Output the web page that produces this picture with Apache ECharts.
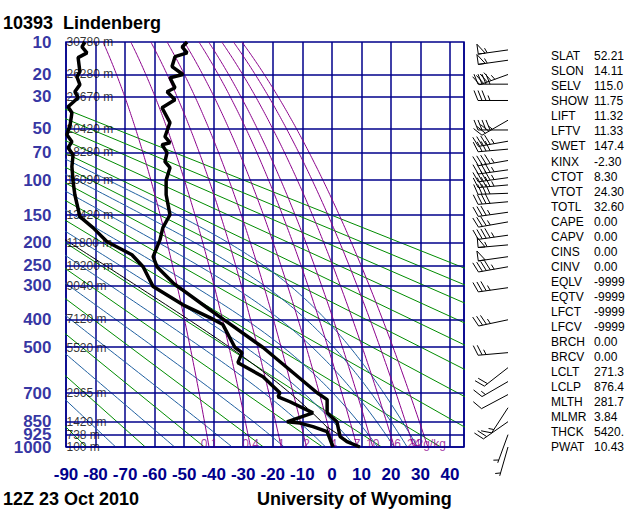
<!DOCTYPE html>
<html>
<head>
<meta charset="utf-8">
<script src="https://cdn.jsdelivr.net/npm/echarts@6/dist/echarts.min.js"></script>
<style>
  html, body { margin: 0; padding: 0; background: #fff; }
  #chart { width: 640px; height: 512px; }
</style>
</head>
<body>
<div id="chart"></div>
<script>
// 等压面及其高度
const pLevels = [10, 20, 30, 50, 70, 100, 150, 200, 250, 300, 400, 500, 700, 850, 925, 1000]
const heights = ['30780', '26280', '23670', '20420', '18280', '16090', '13420', '11800', '10200', '9040', '7120', '5520', '2965', '1420', '738', '100']

// 温度廓线 (hPa, °C)
const tempP = [10, 11.2, 12.8, 13.9, 17.1, 20, 21.3, 25.6, 27.5, 31.6, 36.1, 45.7, 56.3, 61.3, 63, 70.3, 79.2, 85.6, 100, 119, 149, 171, 194, 229, 252, 292, 369, 408, 500, 697, 731, 800, 849, 936, 967, 1000]
const tempT = [-49.0, -50.7, -49.0, -53.1, -54.1, -50.4, -54.8, -53.1, -55.8, -53.1, -57.5, -54.8, -56.5, -54.8, -57.5, -55.8, -56.5, -54.8, -56.1, -56.1, -54.8, -57.2, -58.2, -60.5, -59.2, -53.8, -41.3, -35.5, -23.3, -5.0, -1.6, -1.6, 1.7, 2.8, 5.1, 9.5]

// 露点廓线 (hPa, °C)
const dewP = [10, 11.2, 12.8, 14.2, 18.9, 20.9, 24.2, 27.5, 30.5, 35.5, 39.1, 47.1, 54.7, 60.4, 65.7, 72.2, 84.5, 101.9, 119, 152, 171, 197.6, 224.6, 252, 302, 354, 394, 417, 500, 520, 561, 622, 697, 717, 742, 800, 850, 857, 877, 906, 1000]
const dewT = [-83.6, -84.6, -82.9, -85.9, -85.3, -86.3, -85.3, -87.0, -85.9, -89.3, -88.0, -88.6, -89.7, -88.0, -89.3, -87.6, -88.0, -87.6, -87.0, -85.3, -80.9, -76.1, -67.7, -63.9, -60.5, -50.4, -41.3, -36.9, -32.8, -30.4, -31.8, -23.3, -17.6, -18.2, -14.2, -6.4, -15.2, -10.8, -6.4, -1.6, 0.4]

// 风 (hPa, 风向°, 风速kt)
const windP = [12, 15, 20, 24, 32, 44, 51, 60, 67, 78, 88, 97, 106, 117, 129, 145, 161, 185, 204, 229, 252, 305, 401, 520, 582, 644, 706, 773, 849, 924, 1000]
const windDir = [262, 262, 250, 270, 270, 240, 270, 260, 265, 260, 262, 262, 265, 268, 265, 262, 260, 262, 265, 262, 260, 262, 258, 265, 232, 240, 242, 213, 235, 200, 196]
const windSpd = [55, 55, 45, 40, 35, 35, 40, 45, 40, 45, 45, 45, 45, 40, 40, 35, 35, 45, 55, 50, 45, 35, 35, 25, 20, 15, 10, 15, 20, 5, 5]

// 背景线参数
const dryTheta = [190, 210, 230, 250, 270, 290, 310, 330, 350, 370, 390, 410, 430, 450, 470]
const moistThetaE = [200, 220, 240, 260, 280, 300, 320, 340, 360, 380]
const mixRatio = [0.1, 0.4, 1, 2, 4, 7, 10, 16, 24, 32]
const mixLabels = ['0.1', '0.4', '1', '2', '4', '7', '10', '16', '24', '32g/kg']

// 气块参数
const lclP = 876.4
const lclT = 271.3
const mlTheta = 281.7
const mlMr = 3.84

// 指数表
const indexNames = ['SLAT', 'SLON', 'SELV', 'SHOW', 'LIFT', 'LFTV', 'SWET', 'KINX', 'CTOT', 'VTOT', 'TOTL', 'CAPE', 'CAPV', 'CINS', 'CINV', 'EQLV', 'EQTV', 'LFCT', 'LFCV', 'BRCH', 'BRCV', 'LCLT', 'LCLP', 'MLTH', 'MLMR', 'THCK', 'PWAT']
const indexValues = ['52.21', '14.11', '115.0', '11.75', '11.32', '11.33', '147.4', '-2.30', '8.30', '24.30', '32.60', '0.00', '0.00', '0.00', '0.00', '-9999', '-9999', '-9999', '-9999', '0.00', '0.00', '271.3', '876.4', '281.7', '3.84', '5420.', '10.43']

const NAVY = '#00008b'
const GREEN = '#008c00'
const STEEL = '#1f5f9f'
const PURPLE = '#8b008b'
const KAPPA = 0.286
const FONT = '"Liberation Sans", Arial, sans-serif'

// 纵轴用 p^kappa
const yv = (p) => Math.pow(p, KAPPA)
const pair = (ps, ts) => ps.map((p, i) => [ts[i], yv(p)])

const satVap = (tc) => 6.112 * Math.exp(17.67 * tc / (tc + 243.5))
const dewFromMix = (w, p) => {
  const e = (w / 1000) * p / (0.622 + w / 1000)
  const l = Math.log(e / 6.112)
  return 243.5 * l / (17.67 - l)
}
// 饱和相当位温
const satThetaE = (tk, p) => {
  const e = satVap(tk - 273.15)
  const r = 1000 * 0.622 * e / (p - e)
  return tk * Math.pow(1000 / p, 0.2854 * (1 - 0.00028 * r)) * Math.exp((3.376 / tk - 0.00254) * r * (1 + 0.00081 * r))
}
// 由相当位温求 1000hPa 温度
const tempForThetaE = (te) => {
  let lo = 150
  let hi = 340
  for (let i = 0; i < 60; i++) {
    const mid = (lo + hi) / 2
    if (satThetaE(mid, 1000) > te) hi = mid
    else lo = mid
  }
  return (lo + hi) / 2 - 273.15
}
const moistLapse = (p, tk) => {
  const e = satVap(tk - 273.15)
  const rs = 0.622 * e / (p - e)
  const num = (287.04 * tk + 2.501e6 * rs) / p
  const den = 1005.7 + 2.501e6 * 2.501e6 * rs * 0.622 / (287.04 * tk * tk)
  return num / den
}
const moistPath = (p0, tc0, pEnd) => {
  let p = p0
  let t = tc0 + 273.15
  const pts = [[tc0, yv(p0)]]
  while (p > pEnd) {
    const dp = -Math.max(p * 0.02, 0.2)
    const k1 = moistLapse(p, t)
    const k2 = moistLapse(p + dp, t + k1 * dp)
    t += 0.5 * (k1 + k2) * dp
    p += dp
    pts.push([t - 273.15, yv(p)])
    if (t - 273.15 < -95) break
  }
  return pts
}
const mixPath = (w, pBot, pTop) => {
  const pts = []
  for (let p = pBot; p > pTop; p *= 0.97) pts.push([dewFromMix(w, p), yv(p)])
  pts.push([dewFromMix(w, pTop), yv(pTop)])
  return pts
}

const xMin = -90
const xMax = -90 + 398 / 2.954

const bgLine = (data, color) => ({
  type: 'line',
  data,
  showSymbol: false,
  silent: true,
  clip: true,
  lineStyle: { color, width: 1 },
  z: 1
})

const series = []

// 干绝热线
dryTheta.forEach(th => {
  series.push(bgLine([[th - 273.15, yv(1000)], [th * Math.pow(10 / 1000, KAPPA) - 273.15, yv(10)]], GREEN))
})
// 湿绝热线
moistThetaE.forEach(te => {
  series.push(bgLine(moistPath(1000, tempForThetaE(te), 10), STEEL))
})
// 等饱和比湿线
mixRatio.forEach(w => {
  series.push(bgLine(mixPath(w, 1000, 10), PURPLE))
})

// 等压线
series.push({
  type: 'line',
  data: [[xMin, yv(1000)]],
  showSymbol: false,
  silent: true,
  z: 2,
  markLine: {
    symbol: 'none',
    silent: true,
    label: { show: false },
    lineStyle: { color: NAVY, width: 1.5, type: 'solid' },
    data: pLevels.map(p => ({ yAxis: yv(p) }))
  }
})

// 气压标注
series.push({
  type: 'scatter',
  data: pLevels.map(p => [xMin, yv(p)]),
  symbolSize: 1,
  itemStyle: { color: 'rgba(0,0,0,0)' },
  silent: true,
  clip: false,
  z: 3,
  label: {
    show: true,
    position: 'left',
    distance: 14,
    color: NAVY,
    fontSize: 17,
    fontWeight: 'bold',
    fontFamily: FONT,
    formatter: (params) => String(pLevels[params.dataIndex])
  }
})

// 高度标注
series.push({
  type: 'scatter',
  data: pLevels.map(p => [xMin, yv(p)]),
  symbolSize: 1,
  itemStyle: { color: 'rgba(0,0,0,0)' },
  silent: true,
  clip: false,
  z: 3,
  label: {
    show: true,
    position: 'right',
    distance: 0,
    color: '#000',
    fontSize: 12,
    fontFamily: FONT,
    formatter: (params) => heights[params.dataIndex] + ' m'
  }
})

// 比湿标注
series.push({
  type: 'scatter',
  data: mixRatio.map(w => [dewFromMix(w, 1000), yv(1000)]),
  symbolSize: 1,
  itemStyle: { color: 'rgba(0,0,0,0)' },
  silent: true,
  clip: false,
  z: 3,
  label: {
    show: true,
    position: 'inside',
    offset: [0, -3],
    color: PURPLE,
    fontSize: 12,
    fontFamily: FONT,
    formatter: (params) => mixLabels[params.dataIndex]
  }
})

// 气块路径
const parcel = [[mlTheta - 273.15, yv(1000)], [lclT - 273.15, yv(lclP)]]
series.push(Object.assign(bgLine(parcel, '#000'), { z: 4 }))
series.push(Object.assign(bgLine(mixPath(mlMr, 1000, lclP), '#000'), { z: 4 }))
series.push(Object.assign(bgLine(moistPath(lclP, lclT - 273.15, 10), '#000'), { z: 4 }))

// 温度与露点
series.push({
  type: 'line',
  data: pair(tempP, tempT),
  showSymbol: false,
  clip: true,
  lineStyle: { color: '#000', width: 3.5 },
  z: 5
})
series.push({
  type: 'line',
  data: pair(dewP, dewT),
  showSymbol: false,
  clip: true,
  lineStyle: { color: '#000', width: 3.5 },
  z: 5
})

// 风羽
const renderBarb = (params, api) => {
  const pt = api.coord([api.value(0), api.value(1)])
  const rad = api.value(2) * Math.PI / 180
  const spd = api.value(3)
  const ux = Math.sin(rad)
  const uy = -Math.cos(rad)
  const px = -uy
  const py = ux
  const L = 30
  const tx = pt[0] + ux * L
  const ty = pt[1] + uy * L
  const st = { stroke: '#000', lineWidth: 1, fill: null }
  const children = [{ type: 'line', shape: { x1: pt[0], y1: pt[1], x2: tx, y2: ty }, style: st }]
  let rest = Math.round(spd / 5) * 5
  let d = 0
  while (rest >= 50) {
    const bx = tx - ux * d
    const by = ty - uy * d
    children.push({
      type: 'polygon',
      shape: { points: [[bx, by], [bx - ux * 7, by - uy * 7], [bx + px * 10, by + py * 10]] },
      style: st
    })
    d += 9
    rest -= 50
  }
  while (rest >= 10) {
    const bx = tx - ux * d
    const by = ty - uy * d
    children.push({ type: 'line', shape: { x1: bx, y1: by, x2: bx + px * 10 + ux * 4, y2: by + py * 10 + uy * 4 }, style: st })
    d += 4
    rest -= 10
  }
  if (rest >= 5) {
    if (d === 0) d = 3
    const bx = tx - ux * d
    const by = ty - uy * d
    children.push({ type: 'line', shape: { x1: bx, y1: by, x2: bx + px * 5 + ux * 2, y2: by + py * 5 + uy * 2 }, style: st })
  }
  return { type: 'group', children }
}
series.push({
  type: 'custom',
  xAxisIndex: 1,
  yAxisIndex: 1,
  clip: false,
  silent: true,
  renderItem: renderBarb,
  data: windP.map((p, i) => [1, yv(p), windDir[i], windSpd[i]]),
  z: 6
})

// 文字
const graphics = [
  { type: 'text', left: 3, top: 14, style: { text: '10393', fill: '#000', font: 'bold 18px ' + FONT } },
  { type: 'text', left: 63, top: 14, style: { text: 'Lindenberg', fill: '#000', font: 'bold 18px ' + FONT } },
  { type: 'text', left: 3, top: 490, style: { text: '12Z 23 Oct 2010', fill: '#000', font: 'bold 18px ' + FONT } },
  { type: 'text', left: 257, top: 490, style: { text: 'University of Wyoming', fill: '#000', font: 'bold 18px ' + FONT } }
]
indexNames.forEach((name, i) => {
  const y = 57.3 + i * 15.03 - 7
  graphics.push({ type: 'text', left: 551, top: y, style: { text: name, fill: '#000', font: '12px "Liberation Sans Narrow", "Liberation Sans", sans-serif' } })
  graphics.push({ type: 'text', left: 594, top: y, style: { text: indexValues[i], fill: '#000', font: '12px "Liberation Sans Narrow", "Liberation Sans", sans-serif' } })
})

const chart = echarts.init(document.getElementById('chart'), null, { renderer: 'svg' })

const option = {
  animation: false,
  backgroundColor: '#fff',
  grid: [
    { left: 66, top: 42, width: 398, height: 405, show: true, borderColor: NAVY, borderWidth: 1.5, backgroundColor: 'transparent' },
    { left: 470, top: 42, width: 38, height: 405, show: false }
  ],
  xAxis: [
    {
      type: 'value',
      gridIndex: 0,
      min: xMin,
      max: xMax,
      interval: 10,
      axisLine: { show: false },
      axisTick: { show: false },
      splitLine: { show: true, lineStyle: { color: NAVY, width: 1.5 } },
      axisLabel: {
        color: NAVY,
        fontSize: 17,
        fontWeight: 'bold',
        fontFamily: FONT,
        margin: 19,
        showMaxLabel: false,
        formatter: (v) => (Math.abs(v % 10) < 1e-6 ? String(v) : '')
      }
    },
    { type: 'value', gridIndex: 1, min: 0, max: 1, show: false }
  ],
  yAxis: [
    {
      type: 'value',
      gridIndex: 0,
      inverse: true,
      min: yv(10),
      max: yv(1000),
      axisLine: { show: false },
      axisTick: { show: false },
      splitLine: { show: false },
      axisLabel: { show: false }
    },
    { type: 'value', gridIndex: 1, inverse: true, min: yv(10), max: yv(1000), show: false }
  ],
  graphic: graphics,
  series
}

chart.setOption(option)
</script>
</body>
</html>
